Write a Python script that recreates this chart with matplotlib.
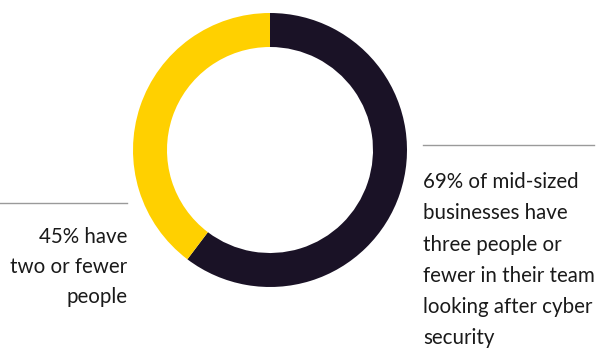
import matplotlib
matplotlib.use("Agg")
import matplotlib.pyplot as plt

# segment shares (dark first, clockwise from the top)
segments = ["three or fewer", "other"]
shares = [60.3, 39.7]
colors = ["#1a1226", "#ffd000"]

right_lines = ["69% of mid-sized", "businesses have", "three people or",
               "fewer in their team", "looking after cyber", "security"]
left_lines = ["45% have", "two or fewer", "people"]

W, H = 601, 349
fig = plt.figure(figsize=(W / 100, H / 100), dpi=100)

# donut: centre (270,150) px, outer radius 137 px
cx, cy, r = 270, 150, 137
ax = fig.add_axes([(cx - r) / W, (H - cy - r) / H, 2 * r / W, 2 * r / H])
ax.pie(shares, colors=colors, startangle=90, counterclock=False, radius=1,
       wedgeprops=dict(width=34 / 137, linewidth=0))
ax.set_xlim(-1, 1)
ax.set_ylim(-1, 1)
ax.set_aspect("equal")
ax.axis("off")

def px(x, y):
    return x / W, 1 - y / H

txt = dict(fontsize=14.8, color="#1a1a1a", family=["Lato", "DejaVu Sans"])

# right annotation
fig.add_artist(plt.Line2D([423 / W, 594 / W], [1 - 145 / H] * 2,
                          color="#9a9a9a", lw=1))
for i, line in enumerate(right_lines):
    fig.text(*px(423, 188 + 31.3 * i), line, ha="left", va="baseline", **txt)

# left annotation
fig.add_artist(plt.Line2D([0, 127 / W], [1 - 203 / H] * 2,
                          color="#9a9a9a", lw=1))
for i, line in enumerate(left_lines):
    fig.text(*px(127, 243 + 30 * i), line, ha="right", va="baseline", **txt)

fig.savefig("out.png", dpi=100)
